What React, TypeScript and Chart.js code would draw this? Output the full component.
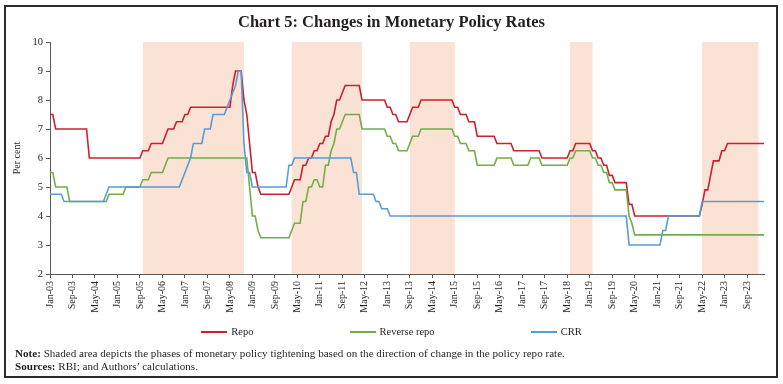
import React, { useEffect, useRef } from "react";
import { Chart, registerables } from "chart.js";

Chart.register(...registerables);

const MONTHS = ["Jan", "Feb", "Mar", "Apr", "May", "Jun", "Jul", "Aug", "Sep", "Oct", "Nov", "Dec"];
const YEARS = ["03", "04", "05", "06", "07", "08", "09", "10", "11", "12", "13", "14", "15", "16", "17", "18", "19", "20", "21", "22", "23", "24"];

const TICK_LABELS = [
  "Jan-03", "Sep-03", "May-04", "Jan-05", "Sep-05", "May-06", "Jan-07", "Sep-07", "May-08", "Jan-09", "Sep-09",
  "May-10", "Jan-11", "Sep-11", "May-12", "Jan-13", "Sep-13", "May-14", "Jan-15", "Sep-15", "May-16", "Jan-17",
  "Sep-17", "May-18", "Jan-19", "Sep-19", "May-20", "Jan-21", "Sep-21", "May-22", "Jan-23", "Sep-23",
];

// Monthly values, Jan-03 .. Mar-24 (one row per year)
const REPO = [
  7.5, 7.5, 7, 7, 7, 7, 7, 7, 7, 7, 7, 7,
  7, 7, 6, 6, 6, 6, 6, 6, 6, 6, 6, 6,
  6, 6, 6, 6, 6, 6, 6, 6, 6, 6.25, 6.25, 6.25,
  6.5, 6.5, 6.5, 6.5, 6.5, 6.75, 7, 7, 7, 7.25, 7.25, 7.25,
  7.5, 7.5, 7.75, 7.75, 7.75, 7.75, 7.75, 7.75, 7.75, 7.75, 7.75, 7.75,
  7.75, 7.75, 7.75, 7.75, 7.75, 8.5, 9, 9, 9, 8, 7.5, 6.5,
  5.5, 5.5, 5, 4.75, 4.75, 4.75, 4.75, 4.75, 4.75, 4.75, 4.75, 4.75,
  4.75, 4.75, 5, 5.25, 5.25, 5.25, 5.75, 5.75, 6, 6, 6.25, 6.25,
  6.5, 6.5, 6.75, 6.75, 7.25, 7.5, 8, 8, 8.25, 8.5, 8.5, 8.5,
  8.5, 8.5, 8.5, 8, 8, 8, 8, 8, 8, 8, 8, 8,
  7.75, 7.75, 7.5, 7.5, 7.25, 7.25, 7.25, 7.25, 7.5, 7.75, 7.75, 7.75,
  8, 8, 8, 8, 8, 8, 8, 8, 8, 8, 8, 8,
  7.75, 7.75, 7.5, 7.5, 7.5, 7.25, 7.25, 7.25, 6.75, 6.75, 6.75, 6.75,
  6.75, 6.75, 6.75, 6.5, 6.5, 6.5, 6.5, 6.5, 6.5, 6.25, 6.25, 6.25,
  6.25, 6.25, 6.25, 6.25, 6.25, 6.25, 6.25, 6, 6, 6, 6, 6,
  6, 6, 6, 6, 6, 6.25, 6.25, 6.5, 6.5, 6.5, 6.5, 6.5,
  6.5, 6.25, 6.25, 6, 6, 5.75, 5.75, 5.4, 5.4, 5.15, 5.15, 5.15,
  5.15, 5.15, 4.4, 4.4, 4, 4, 4, 4, 4, 4, 4, 4,
  4, 4, 4, 4, 4, 4, 4, 4, 4, 4, 4, 4,
  4, 4, 4, 4, 4.4, 4.9, 4.9, 5.4, 5.9, 5.9, 5.9, 6.25,
  6.25, 6.5, 6.5, 6.5, 6.5, 6.5, 6.5, 6.5, 6.5, 6.5, 6.5, 6.5,
  6.5, 6.5, 6.5,
];

const REVERSE_REPO = [
  5.5, 5.5, 5, 5, 5, 5, 5, 4.5, 4.5, 4.5, 4.5, 4.5,
  4.5, 4.5, 4.5, 4.5, 4.5, 4.5, 4.5, 4.5, 4.5, 4.75, 4.75, 4.75,
  4.75, 4.75, 4.75, 5, 5, 5, 5, 5, 5, 5.25, 5.25, 5.25,
  5.5, 5.5, 5.5, 5.5, 5.5, 5.75, 6, 6, 6, 6, 6, 6,
  6, 6, 6, 6, 6, 6, 6, 6, 6, 6, 6, 6,
  6, 6, 6, 6, 6, 6, 6, 6, 6, 6, 6, 5,
  4, 4, 3.5, 3.25, 3.25, 3.25, 3.25, 3.25, 3.25, 3.25, 3.25, 3.25,
  3.25, 3.25, 3.5, 3.75, 3.75, 3.75, 4.5, 4.5, 5, 5, 5.25, 5.25,
  5, 5, 5.75, 5.75, 6.25, 6.5, 7, 7, 7.25, 7.5, 7.5, 7.5,
  7.5, 7.5, 7.5, 7, 7, 7, 7, 7, 7, 7, 7, 7,
  6.75, 6.75, 6.5, 6.5, 6.25, 6.25, 6.25, 6.25, 6.5, 6.75, 6.75, 6.75,
  7, 7, 7, 7, 7, 7, 7, 7, 7, 7, 7, 7,
  6.75, 6.75, 6.5, 6.5, 6.5, 6.25, 6.25, 6.25, 5.75, 5.75, 5.75, 5.75,
  5.75, 5.75, 5.75, 6, 6, 6, 6, 6, 6, 5.75, 5.75, 5.75,
  5.75, 5.75, 5.75, 6, 6, 6, 6, 5.75, 5.75, 5.75, 5.75, 5.75,
  5.75, 5.75, 5.75, 5.75, 5.75, 6, 6, 6.25, 6.25, 6.25, 6.25, 6.25,
  6.25, 6, 6, 5.75, 5.75, 5.5, 5.5, 5.15, 5.15, 4.9, 4.9, 4.9,
  4.9, 4.9, 4, 3.75, 3.35, 3.35, 3.35, 3.35, 3.35, 3.35, 3.35, 3.35,
  3.35, 3.35, 3.35, 3.35, 3.35, 3.35, 3.35, 3.35, 3.35, 3.35, 3.35, 3.35,
  3.35, 3.35, 3.35, 3.35, 3.35, 3.35, 3.35, 3.35, 3.35, 3.35, 3.35, 3.35,
  3.35, 3.35, 3.35, 3.35, 3.35, 3.35, 3.35, 3.35, 3.35, 3.35, 3.35, 3.35,
  3.35, 3.35, 3.35,
];

const CRR = [
  4.75, 4.75, 4.75, 4.75, 4.75, 4.5, 4.5, 4.5, 4.5, 4.5, 4.5, 4.5,
  4.5, 4.5, 4.5, 4.5, 4.5, 4.5, 4.5, 4.5, 4.75, 5, 5, 5,
  5, 5, 5, 5, 5, 5, 5, 5, 5, 5, 5, 5,
  5, 5, 5, 5, 5, 5, 5, 5, 5, 5, 5, 5.25,
  5.5, 5.75, 6, 6.5, 6.5, 6.5, 6.5, 7, 7, 7, 7.5, 7.5,
  7.5, 7.5, 7.5, 7.75, 8, 8.25, 8.5, 9, 9, 6.5, 5.5, 5.5,
  5, 5, 5, 5, 5, 5, 5, 5, 5, 5, 5, 5,
  5, 5.75, 5.75, 6, 6, 6, 6, 6, 6, 6, 6, 6,
  6, 6, 6, 6, 6, 6, 6, 6, 6, 6, 6, 6,
  5.5, 5.5, 4.75, 4.75, 4.75, 4.75, 4.75, 4.75, 4.5, 4.5, 4.25, 4.25,
  4.25, 4, 4, 4, 4, 4, 4, 4, 4, 4, 4, 4,
  4, 4, 4, 4, 4, 4, 4, 4, 4, 4, 4, 4,
  4, 4, 4, 4, 4, 4, 4, 4, 4, 4, 4, 4,
  4, 4, 4, 4, 4, 4, 4, 4, 4, 4, 4, 4,
  4, 4, 4, 4, 4, 4, 4, 4, 4, 4, 4, 4,
  4, 4, 4, 4, 4, 4, 4, 4, 4, 4, 4, 4,
  4, 4, 4, 4, 4, 4, 4, 4, 4, 4, 4, 4,
  4, 4, 3, 3, 3, 3, 3, 3, 3, 3, 3, 3,
  3, 3, 3.5, 3.5, 4, 4, 4, 4, 4, 4, 4, 4,
  4, 4, 4, 4, 4.5, 4.5, 4.5, 4.5, 4.5, 4.5, 4.5, 4.5,
  4.5, 4.5, 4.5, 4.5, 4.5, 4.5, 4.5, 4.5, 4.5, 4.5, 4.5, 4.5,
  4.5, 4.5, 4.5,
];

// Phases of monetary policy tightening (start, end)
const TIGHTENING: [string, string][] = [
  ["Oct-05", "Oct-08"],
  ["Mar-10", "Apr-12"],
  ["Sep-13", "Jan-15"],
  ["Jun-18", "Feb-19"],
  ["May-22", "Jan-24"],
];

const SERIES_NAMES = ["Repo", "Reverse repo", "CRR"];
const SERIES_COLORS = ["#cf1f2e", "#72ad4a", "#5b9bd5"];
const SERIES_ORDER = [2, 1, 0]; // CRR drawn on top
const SHADE = "#fae3d5";
const AXIS = "#595959";
const TEXT = "#231f20";
const FONT = "'Liberation Serif', 'DejaVu Serif', serif";

const LABELS = YEARS.flatMap((y) => MONTHS.map((m) => `${m}-${y}`)).slice(0, REPO.length);

const bandPlugin = {
  id: "tighteningBands",
  beforeDraw(chart: any) {
    const { ctx, chartArea, scales } = chart;
    const x = scales.x;
    ctx.save();
    ctx.fillStyle = SHADE;
    for (const [s, e] of TIGHTENING) {
      const x0 = x.getPixelForValue(LABELS.indexOf(s));
      const x1 = x.getPixelForValue(LABELS.indexOf(e));
      ctx.fillRect(x0, chartArea.top, x1 - x0, chartArea.bottom - chartArea.top);
    }
    ctx.restore();
  },
};

export default function App() {
  const ref = useRef<HTMLCanvasElement | null>(null);

  useEffect(() => {
    if (!ref.current) return;
    Chart.defaults.font.family = FONT;
    const series = [REPO, REVERSE_REPO, CRR];
    const chart = new Chart(ref.current, {
      type: "line",
      data: {
        labels: LABELS,
        datasets: series.map((d, k) => ({
          label: SERIES_NAMES[k],
          data: d,
          order: SERIES_ORDER[k],
          borderColor: SERIES_COLORS[k],
          backgroundColor: SERIES_COLORS[k],
          borderWidth: 1.6,
          pointRadius: 0,
          tension: 0,
          fill: false,
        })),
      },
      options: {
        animation: false,
        responsive: true,
        maintainAspectRatio: false,
        layout: { padding: { top: 42, right: 19, bottom: 0, left: 0 } },
        plugins: {
          legend: { display: false },
          tooltip: { enabled: false },
          title: { display: false },
        },
        scales: {
          x: {
            type: "category",
            offset: false,
            ticks: {
              autoSkip: false,
              minRotation: 90,
              maxRotation: 90,
              padding: 3,
              color: TEXT,
              font: { size: 10, family: FONT },
              callback: (_v: any, i: number) => (TICK_LABELS.includes(LABELS[i]) ? LABELS[i] : null),
            },
            grid: { drawOnChartArea: false, drawTicks: true, tickLength: 4, color: AXIS, offset: false },
            border: { display: true, color: AXIS, width: 1 },
            afterFit: (s: any) => {
              s.height = 110;
            },
          },
          y: {
            min: 2,
            max: 10,
            ticks: { stepSize: 1, padding: 3, color: TEXT, font: { size: 10.5, family: FONT } },
            grid: { drawOnChartArea: false, drawTicks: true, tickLength: 4, color: AXIS },
            border: { display: true, color: AXIS, width: 1 },
            title: {
              display: true,
              text: "Per cent",
              color: TEXT,
              font: { size: 10, family: FONT },
              padding: { top: 11, bottom: 0 },
            },
            afterFit: (s: any) => {
              s.width = 50;
            },
          },
        },
      },
      plugins: [bandPlugin],
    });
    return () => chart.destroy();
  }, []);

  return (
    <div style={{ position: "absolute", left: 0, top: 0, width: 783, height: 384, background: "#fff", fontFamily: FONT, color: TEXT }}>
      <div style={{ position: "absolute", left: 0, top: 0, width: 783, height: 384 }}>
        <canvas ref={ref} />
      </div>
      <div
        style={{
          position: "absolute",
          left: 0,
          top: 12,
          width: 783,
          textAlign: "center",
          fontWeight: "bold",
          fontSize: 16.5,
          lineHeight: "20px",
        }}
      >
        Chart 5: Changes in Monetary Policy Rates
      </div>
      <div
        style={{
          position: "absolute",
          left: 0,
          top: 325,
          width: 783,
          display: "flex",
          justifyContent: "center",
          gap: 96,
          fontSize: 10.5,
          lineHeight: "14px",
        }}
      >
        {SERIES_NAMES.map((n, k) => (
          <div key={n} style={{ display: "flex", alignItems: "center" }}>
            <span style={{ display: "inline-block", width: 26, height: 2.5, background: SERIES_COLORS[k], marginRight: 4 }} />
            <span>{n}</span>
          </div>
        ))}
      </div>
      <div style={{ position: "absolute", left: 15, top: 347, fontSize: 11.1, lineHeight: "12.5px", whiteSpace: "nowrap" }}>
        <div>
          <b>Note:</b> Shaded area depicts the phases of monetary policy tightening based on the direction of change in the policy repo rate.
        </div>
        <div>
          <b>Sources:</b> RBI; and Authors’ calculations.
        </div>
      </div>
      <div
        style={{
          position: "absolute",
          left: 4,
          top: 5,
          width: 774,
          height: 373,
          border: "2px solid #2b2b2b",
          boxSizing: "border-box",
          pointerEvents: "none",
        }}
      />
    </div>
  );
}
